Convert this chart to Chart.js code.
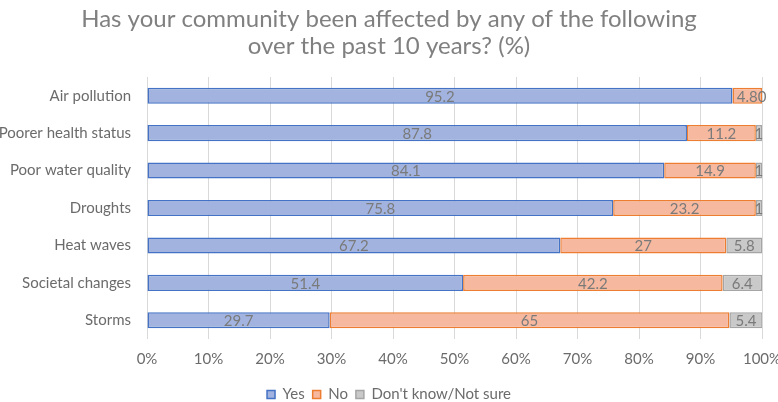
<!DOCTYPE html>
<html>
<head>
<meta charset="utf-8">
<script src="https://cdn.jsdelivr.net/npm/chart.js@4/dist/chart.umd.min.js"></script>
<style>
  html, body { margin: 0; padding: 0; background: #fff; }
  #wrap { width: 778px; height: 402px; }
</style>
</head>
<body>
<div id="wrap"><canvas id="chart" width="778" height="402"></canvas></div>
<script>
// categories and survey answers (%)
const categories = ["Air pollution", "Poorer health status", "Poor water quality", "Droughts", "Heat waves", "Societal changes", "Storms"];
const yesValues = [95.2, 87.8, 84.1, 75.8, 67.2, 51.4, 29.7];
const noValues = [4.8, 11.2, 14.9, 23.2, 27, 42.2, 65];
const unsureValues = [0, 1, 1, 1, 5.8, 6.4, 5.4];
const seriesNames = ["Yes", "No", "Don't know/Not sure"];
const xTicks = [0, 10, 20, 30, 40, 50, 60, 70, 80, 90, 100];

const FONT = "Lato, 'Open Sans', sans-serif";

// draw value labels in the middle of each bar piece
const barLabels = {
  id: "barLabels",
  afterDatasetsDraw(chart) {
    const ctx = chart.ctx;
    ctx.save();
    ctx.font = "15px " + FONT;
    ctx.fillStyle = "#7a7a7a";
    ctx.textAlign = "center";
    ctx.textBaseline = "middle";
    chart.data.datasets.forEach((ds, i) => {
      const meta = chart.getDatasetMeta(i);
      meta.data.forEach((bar, j) => {
        ctx.fillText(String(ds.data[j]), (bar.x + bar.base) / 2, bar.y + 1);
      });
    });
    ctx.restore();
  }
};

new Chart(document.getElementById("chart"), {
  type: "bar",
  data: {
    labels: categories,
    datasets: [
      { label: seriesNames[0], data: yesValues, backgroundColor: "#a1b3de", borderColor: "#4472c4", borderWidth: 1.5 },
      { label: seriesNames[1], data: noValues, backgroundColor: "#f6b99f", borderColor: "#ed7d31", borderWidth: 1.5 },
      { label: seriesNames[2], data: unsureValues, backgroundColor: "#c9c9c9", borderColor: "#a5a5a5", borderWidth: 1.5 }
    ]
  },
  options: {
    indexAxis: "y",
    responsive: false,
    animation: false,
    layout: { padding: { left: 0, right: 0, top: 0, bottom: -10 } },
    datasets: { bar: { categoryPercentage: 1, barPercentage: 0.43, borderSkipped: false } },
    scales: {
      x: {
        stacked: true,
        min: 0,
        max: 100,
        afterBuildTicks(scale) { scale.ticks = xTicks.map(v => ({ value: v })); },
        afterFit(scale) { scale.paddingRight = 16; },
        grid: { color: "#d9d9d9", drawTicks: false },
        border: { display: false },
        ticks: {
          padding: 11,
          color: "#6b6b6b",
          font: { family: FONT, size: 15 },
          callback: v => v + "%"
        }
      },
      y: {
        stacked: true,
        afterFit(scale) { scale.width = 147; },
        grid: { display: false },
        border: { display: false },
        ticks: { padding: 8, color: "#6b6b6b", font: { family: FONT, size: 15 } }
      }
    },
    plugins: {
      title: {
        display: true,
        text: ["Has your community been affected by any of the following", "over the past 10 years? (%)"],
        color: "#808080",
        font: { family: FONT, size: 24, weight: "normal", lineHeight: 1.125 },
        padding: { top: 5.5, bottom: 17.5 }
      },
      legend: {
        position: "bottom",
        labels: {
          color: "#6b6b6b",
          font: { family: FONT, size: 15 },
          boxWidth: 8,
          boxHeight: 8,
          padding: 8
        }
      },
      tooltip: { enabled: false }
    }
  },
  plugins: [barLabels]
});
</script>
</body>
</html>
